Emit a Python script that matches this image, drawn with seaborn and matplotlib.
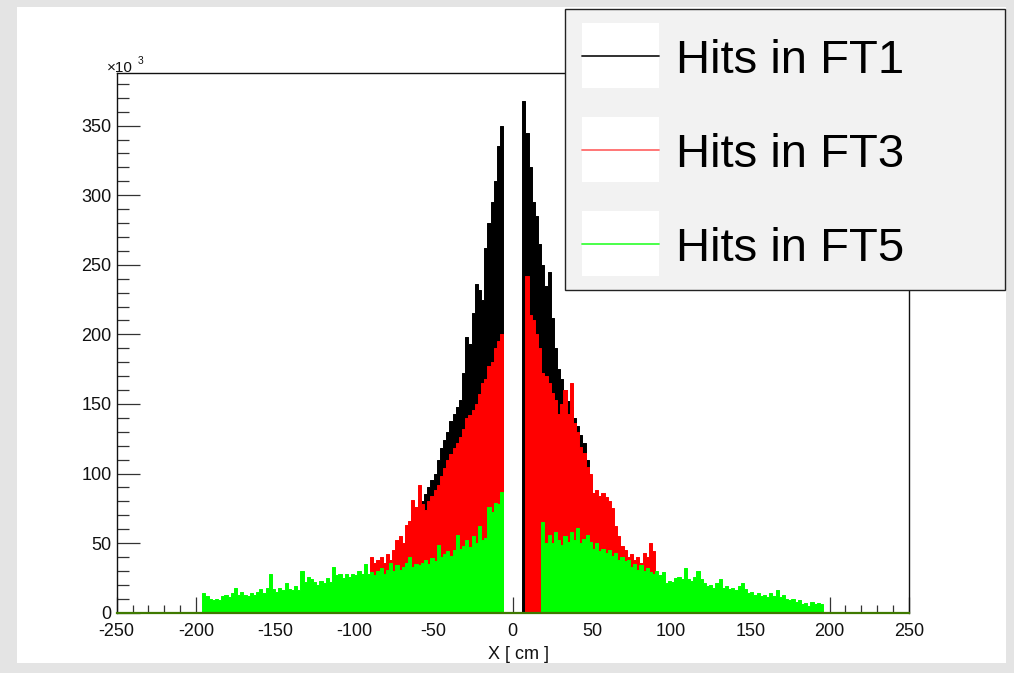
import numpy as np
import pandas as pd
import matplotlib
matplotlib.use("Agg")
import matplotlib.pyplot as plt
import seaborn as sns
from matplotlib.patches import Rectangle
from matplotlib.lines import Line2D
from matplotlib.ticker import MultipleLocator

# ---------------- data (counts in thousands, 2 cm bins) ----------------
BIN = 2.0

# FT5 (green)
ft5_left_start = -196
ft5_left = [14, 12, 10, 9, 10, 9, 12, 13, 11, 14, 18, 13, 15, 13, 12, 14, 13, 15, 17, 14,
            18, 28, 17, 15, 18, 16, 21, 17, 16, 19, 16, 30, 22, 26, 24, 22, 20, 23, 21, 25,
            22, 33, 27, 28, 25, 28, 26, 28, 27, 30, 28, 35, 28, 29, 27, 30, 32, 28, 31, 36,
            30, 34, 31, 33, 36, 40, 33, 35, 34, 36, 38, 35, 39, 37, 49, 40, 42, 44, 41, 45,
            56, 46, 48, 52, 47, 55, 50, 62, 52, 54, 76, 72, 79, 78, 87]
ft5_right_start = 18
ft5_right = [65, 50, 56, 50, 58, 52, 49, 55, 51, 58, 52, 61, 50, 53, 56, 51, 46, 50, 44, 46,
             43, 45, 41, 43, 38, 40, 37, 38, 33, 35, 31, 34, 30, 32, 29, 28, 30, 27, 29, 21,
             23, 22, 25, 26, 24, 32, 24, 23, 26, 30, 24, 21, 19, 20, 18, 21, 24, 18, 19, 17,
             18, 16, 19, 21, 17, 14, 15, 13, 14, 12, 13, 11, 14, 12, 16, 11, 13, 10, 9, 10,
             8, 9, 6, 7, 5, 8, 6, 7, 6]

# FT3 (red)
ft3_left_start = -90
ft3_left = [40, 36, 38, 40, 36, 42, 38, 45, 52, 55, 50, 63, 66, 81, 76, 92, 78, 74, 80, 84,
            88, 92, 98, 104, 110, 114, 118, 122, 126, 132, 140, 142, 146, 150, 157, 165, 168,
            177, 180, 190, 195, 200]
ft3_right_start = 8
ft3_right = [242, 214, 210, 200, 190, 172, 170, 165, 158, 153, 143, 150, 160, 143, 165, 136,
             130, 119, 115, 105, 100, 86, 88, 84, 86, 83, 80, 75, 62, 55, 48, 45, 40, 42, 38,
             40, 36, 43, 40, 50, 44]

# FT1 (black)
ft1_left_start = -70
ft1_left = [45, 52, 60, 70, 72, 82, 80, 85, 90, 95, 100, 110, 118, 124, 130, 138, 143, 148,
            153, 172, 198, 193, 215, 236, 232, 225, 262, 280, 295, 310, 335, 350]
ft1_right_start = 6
ft1_right = [368, 345, 320, 295, 285, 265, 250, 235, 245, 212, 190, 175, 168, 160, 152, 148,
             140, 134, 128, 122, 110, 96, 86, 82, 78, 76, 70, 66, 60, 55, 50, 45]

series_labels = ["Hits in FT1", "Hits in FT3", "Hits in FT5"]
series_colors = ["#000000", "#ff0000", "#00ff00"]
legend_line_colors = ["#202020", "#ff6b6b", "#3cff3c"]

x_ticks = [-250, -200, -150, -100, -50, 0, 50, 100, 150, 200, 250]
y_ticks_k = [0, 50, 100, 150, 200, 250, 300, 350]

# ---------------- style ----------------
sns.set_style("white")
plt.rcParams["font.family"] = ["Liberation Sans", "DejaVu Sans"]
plt.rcParams["axes.unicode_minus"] = False

W, H = 1014, 673
fig = plt.figure(figsize=(W / 100, H / 100), dpi=100)
fig.patch.set_facecolor("#e4e4e4")


def fx(px):
    return px / W


def fy(py):
    return 1 - py / H


# white canvas
fig.patches.append(Rectangle((fx(17), fy(663)), fx(1006) - fx(17), fy(7) - fy(663),
                             transform=fig.transFigure, facecolor="white",
                             edgecolor="none", zorder=-10))

ax = fig.add_axes([fx(116.7), fy(612.7), fx(908.7) - fx(116.7), fy(72.7) - fy(612.7)])
ax.set_facecolor("white")


def draw(start, vals, color):
    v = [float(a) * 1000.0 for a in vals]
    n = len(v)
    centers = [start + BIN * (i + 0.5) for i in range(n)]
    df = pd.DataFrame({"x": centers, "w": v})
    sns.histplot(data=df, x="x", weights="w", binwidth=BIN,
                 binrange=(start, start + BIN * n), element="step", fill=True,
                 color=color, alpha=1, linewidth=0.7, ax=ax)


draw(ft1_left_start, ft1_left, series_colors[0])
draw(ft1_right_start, ft1_right, series_colors[0])
draw(ft3_left_start, ft3_left, series_colors[1])
draw(ft3_right_start, ft3_right, series_colors[1])
draw(ft5_left_start, ft5_left, series_colors[2])
draw(ft5_right_start, ft5_right, series_colors[2])

ax.set_xlim(-250, 250)
ax.set_ylim(0, 388000)
ax.set_xlabel("")
ax.set_ylabel("")
ax.set_axisbelow(True)

ax.set_xticks(x_ticks)
ax.set_xticklabels([str(t) for t in x_ticks])
ax.xaxis.set_minor_locator(MultipleLocator(10))
ax.set_yticks([t * 1000 for t in y_ticks_k])
ax.set_yticklabels([str(t) for t in y_ticks_k])
ax.yaxis.set_minor_locator(MultipleLocator(10000))

ax.tick_params(axis="both", which="both", direction="in", colors="#333333", width=0.9,
               labelsize=13, labelcolor="#111111", bottom=True, left=True,
               top=False, right=False)
ax.tick_params(axis="x", which="major", length=11.5, pad=7.5)
ax.tick_params(axis="x", which="minor", length=5.8)
ax.tick_params(axis="y", which="major", length=16.6, pad=3.6)
ax.tick_params(axis="y", which="minor", length=8.6)

for s in ["left", "top", "right"]:
    ax.spines[s].set_color("#111111")
    ax.spines[s].set_linewidth(1.0)
ax.spines["bottom"].set_color("#3f7a00")
ax.spines["bottom"].set_linewidth(1.6)

# exponent label
fig.text(fx(107), fy(71.5), "×10", fontsize=11, color="#111111", ha="left", va="baseline")
fig.text(fx(138), fy(64), "3", fontsize=7.5, color="#111111", ha="left", va="baseline")

# axis title
fig.text(fx(548.5), fy(659), "X [ cm ]", fontsize=13, color="#111111", ha="right", va="baseline")

# legend (drawn by hand to match ROOT TLegend)
fig.patches.append(Rectangle((fx(565), fy(290)), fx(1005) - fx(565), fy(9) - fy(290),
                             transform=fig.transFigure, facecolor="#f2f2f2",
                             edgecolor="#222222", linewidth=1.0, zorder=5))
rows = [(23, 88, 55.7, 73.3), (117, 182, 150, 167), (211, 276, 243.7, 261)]
for (top, bot, ly, base), lab, lc in zip(rows, series_labels, legend_line_colors):
    fig.patches.append(Rectangle((fx(582), fy(bot)), fx(659) - fx(582), fy(top) - fy(bot),
                                 transform=fig.transFigure, facecolor="white",
                                 edgecolor="none", zorder=6))
    fig.lines.append(Line2D([fx(582), fx(659)], [fy(ly), fy(ly)], transform=fig.transFigure,
                            color=lc, linewidth=1.3, zorder=7))
    fig.text(fx(676), fy(base), lab, fontsize=34, color="#000000", ha="left",
             va="baseline", zorder=8)

fig.savefig("out.png", dpi=100, facecolor=fig.get_facecolor())
